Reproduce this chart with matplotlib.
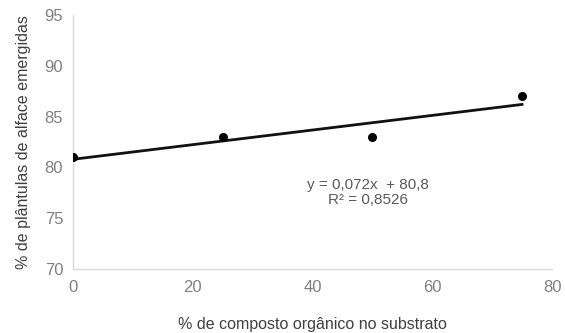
import matplotlib
matplotlib.use("Agg")
import matplotlib.pyplot as plt
import numpy as np

plt.rcParams['font.family'] = ['Liberation Sans', 'DejaVu Sans']

x_vals = [0, 25, 50, 75]
y_vals = [81, 83, 83, 87]
slope = 0.072
intercept = 80.8
eq_text = "y = 0,072x  + 80,8\nR² = 0,8526"
x_ticks = [0, 20, 40, 60, 80]
y_ticks = [70, 75, 80, 85, 90, 95]

fig = plt.figure(figsize=(5.65, 3.33), dpi=100)
ax = fig.add_axes([0.129, 0.192, 0.848, 0.763])

xl = np.array([min(x_vals), max(x_vals)])
ax.plot(xl, slope * xl + intercept, color='#111111', lw=2.0, zorder=2)
ax.scatter(x_vals, y_vals, s=30, color='black', zorder=3)

ax.set_xlim(0, 80)
ax.set_ylim(70, 95)
ax.set_xticks(x_ticks)
ax.set_yticks(y_ticks)
ax.tick_params(axis='y', length=0, labelsize=12, colors='#808080', pad=7)
ax.tick_params(axis='x', length=0, labelsize=12, colors='#808080', pad=8)
for s in ['top', 'right']:
    ax.spines[s].set_visible(False)
for s in ['left', 'bottom']:
    ax.spines[s].set_color('#d9d9d9')
    ax.spines[s].set_linewidth(1.0)

ax.set_xlabel('% de composto orgânico no substrato', fontsize=11.5, color='#404040', labelpad=16)
ax.set_ylabel('% de plântulas de alface emergidas', fontsize=11.5, color='#404040', labelpad=10)

ax.text(0.615, 0.30, eq_text, transform=ax.transAxes, ha='center', va='center',
        fontsize=11, color='#595959', linespacing=1.1)

fig.savefig('out.png', dpi=100)
